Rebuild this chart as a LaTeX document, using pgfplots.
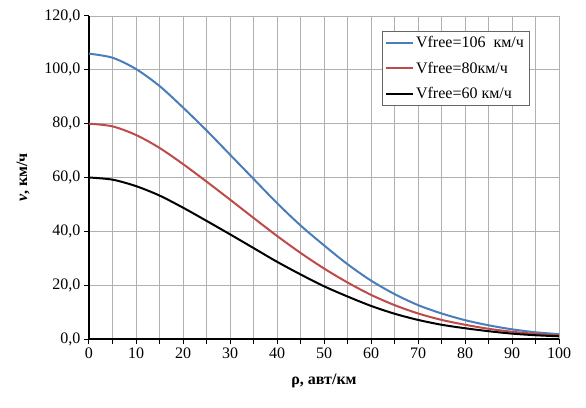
\documentclass[border=0pt]{standalone}
\usepackage{pgfplots}
\pgfplotsset{compat=1.18}
\usepackage{fontspec}
\setmainfont{Liberation Serif}
\definecolor{exblue}{HTML}{4A7EBB}
\definecolor{exred}{HTML}{BE4B48}
\definecolor{gridgray}{HTML}{B0B0B0}
\begin{document}
\begin{tikzpicture}[x=1pt,y=1pt]
\begin{axis}[
  at={(0pt,0pt)}, anchor=south west,
  scale only axis, width=470pt, height=323pt,
  xmin=0, xmax=100, ymin=0, ymax=120,
  axis x line*=bottom, axis y line*=left,
  axis line style={black, line width=1.3pt},
  xtick={0,10,...,100}, minor xtick={5,15,...,95},
  ytick={0,20,...,120},
  grid=both,
  major grid style={gridgray, line width=0.7pt},
  minor grid style={gridgray, line width=0.7pt},
  tick align=outside, tick pos=left,
  major tick length=5pt, minor tick length=5pt,
  every tick/.style={black, line width=1pt},
  minor tick style={black, line width=1pt},
  tick label style={font=\fontsize{16}{18}\selectfont},
  /pgf/number format/assume math mode=true,
  yticklabel style={/pgf/number format/.cd, fixed, fixed zerofill, precision=1, use comma},
  xticklabel style={/pgf/number format/.cd, fixed, precision=0},
  xlabel={\textbf{ρ, авт/км}},
  ylabel={\textbf{\textit{v}, км/ч}},
  label style={font=\fontsize{16}{18}\selectfont},
  xlabel style={yshift=-9pt},
  ylabel style={yshift=8pt},
  legend style={at={(rel axis cs:0.623,0.954)}, anchor=north west,
    draw=gray!80!black, line width=0.6pt, fill=white,
    font=\fontsize{16}{18}\selectfont, row sep=9pt,
    inner xsep=3pt, inner ysep=3pt},
  legend cell align=left,
  legend image code/.code={\draw[#1,sharp plot] (0pt,0pt) -- (27pt,0pt);},
]
\addplot[exblue, line width=2pt, smooth, tension=0.5] coordinates {
(0,106) (5,104.5) (10,100.3) (15,94) (20,86) (25,77.5) (30,68.5) (35,59.5) (40,50.5) (45,42.2) (50,34.8) (55,27.8) (60,21.7) (65,16.7) (70,12.6) (75,9.5) (80,7) (85,5.1) (90,3.6) (95,2.5) (100,1.8)};
\addlegendentry{Vfree=106\ \ км/ч}
\addplot[exred, line width=2pt, smooth, tension=0.5] coordinates {
(0,80) (5,79) (10,75.8) (15,71) (20,65) (25,58.5) (30,51.8) (35,45) (40,38.3) (45,32) (50,26.2) (55,21) (60,16.4) (65,12.6) (70,9.5) (75,7.1) (80,5.3) (85,3.8) (90,2.7) (95,1.9) (100,1.3)};
\addlegendentry{Vfree=80км/ч}
\addplot[black, line width=2pt, smooth, tension=0.5] coordinates {
(0,60) (5,59.2) (10,56.8) (15,53.3) (20,48.8) (25,43.9) (30,38.9) (35,33.8) (40,28.7) (45,24) (50,19.6) (55,15.8) (60,12.3) (65,9.4) (70,7.1) (75,5.3) (80,4) (85,2.9) (90,2) (95,1.4) (100,1)};
\addlegendentry{Vfree=60 км/ч}
\end{axis}
\path[use as bounding box] (-89pt,-68pt) rectangle (497pt,339pt);
\end{tikzpicture}
\end{document}
